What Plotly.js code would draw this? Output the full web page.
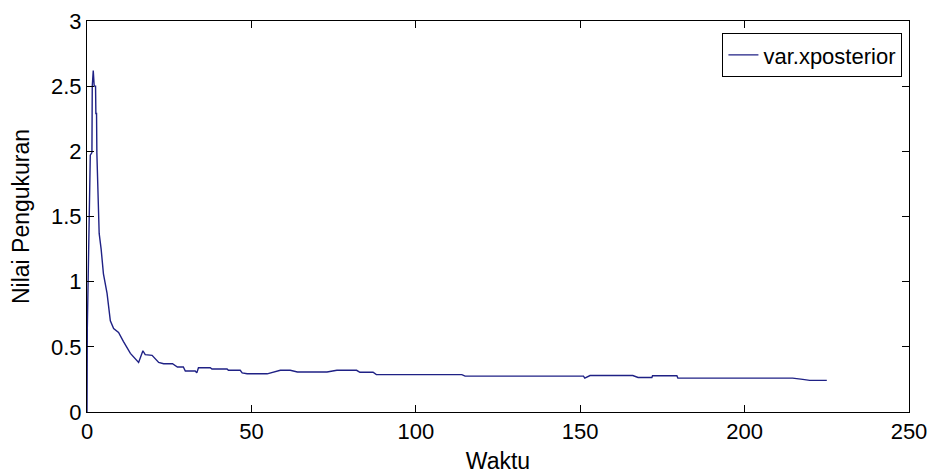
<!DOCTYPE html>
<html>
<head>
<meta charset="utf-8">
<script src="https://cdn.plot.ly/plotly-3.0.1.min.js"></script>
<style>
html,body{margin:0;padding:0;background:#fff;}
#chart{width:935px;height:474px;}
</style>
</head>
<body>
<div id="chart"></div>
<script>
// Data
const waktu = [0, 0.1, 1.0, 1.5, 1.6, 1.9, 2.2, 2.6, 2.7, 2.9, 3.0, 3.3, 3.7, 4.3, 5.0, 6.1, 7.1, 8.1, 9.6, 11.1,
  13.2, 15.7, 17.0, 17.7, 19.8, 21.8, 23.3, 26.0, 27.5, 29.3, 29.9, 32.9, 33.4, 33.9, 37.5, 38.0, 42.6, 43.0,
  46.6, 47.2, 48.7, 54.8, 58.8, 61.8, 64.0, 73.0, 76.0, 82.0, 83.0, 87.0, 88.0, 114.0, 115.0, 151.0, 151.4,
  153.0, 166.0, 167.6, 171.8, 172.0, 179.4, 179.7, 214.6, 217.7, 219.8, 225];
const varXposterior = [0, 0.65, 1.97, 1.99, 2.5, 2.62, 2.5, 2.5, 2.29, 2.29, 1.99, 1.62, 1.37, 1.25, 1.06, 0.91, 0.70, 0.64, 0.61, 0.54,
  0.45, 0.38, 0.47, 0.44, 0.435, 0.38, 0.37, 0.37, 0.345, 0.345, 0.315, 0.315, 0.30, 0.34, 0.34, 0.33, 0.33, 0.32,
  0.32, 0.30, 0.293, 0.293, 0.32, 0.32, 0.307, 0.307, 0.32, 0.32, 0.305, 0.305, 0.287, 0.287, 0.275, 0.275, 0.26,
  0.28, 0.28, 0.265, 0.265, 0.278, 0.278, 0.26, 0.26, 0.25, 0.243, 0.243];
const seriesName = 'var.xposterior';
const xTickVals = [0, 50, 100, 150, 200, 250];
const yTickVals = [0, 0.5, 1, 1.5, 2, 2.5, 3];

const fontFam = 'Liberation Sans, Arial, sans-serif';
const axisCommon = {
  showline: true, linecolor: '#000', linewidth: 1, mirror: 'ticks',
  ticks: 'inside', ticklen: 7, tickcolor: '#000', tickwidth: 1,
  showgrid: false, zeroline: false,
  tickfont: {family: fontFam, size: 22, color: '#000'}
};

const trace = {
  x: waktu, y: varXposterior, type: 'scatter', mode: 'lines', name: seriesName,
  line: {color: '#1f2185', width: 1.4}
};

const layout = {
  width: 935, height: 474,
  paper_bgcolor: '#fff', plot_bgcolor: '#fff',
  margin: {l: 87, r: 26, t: 21, b: 62},
  showlegend: true,
  legend: {
    x: 0.992, y: 0.969, xanchor: 'right', yanchor: 'top',
    bgcolor: '#fff', bordercolor: '#000', borderwidth: 1,
    font: {family: fontFam, size: 22, color: '#000'}
  },
  xaxis: Object.assign({}, axisCommon, {
    range: [0, 250], tickvals: xTickVals, ticktext: xTickVals.map(String),
    title: {text: 'Waktu', font: {family: fontFam, size: 23, color: '#000'}, standoff: 9}
  }),
  yaxis: Object.assign({}, axisCommon, {
    range: [0, 3], tickvals: yTickVals, ticktext: yTickVals.map(String),
    title: {text: 'Nilai Pengukuran', font: {family: fontFam, size: 23, color: '#000'}, standoff: 14}
  })
};

Plotly.newPlot('chart', [trace], layout, {displayModeBar: false, staticPlot: true});
</script>
</body>
</html>
